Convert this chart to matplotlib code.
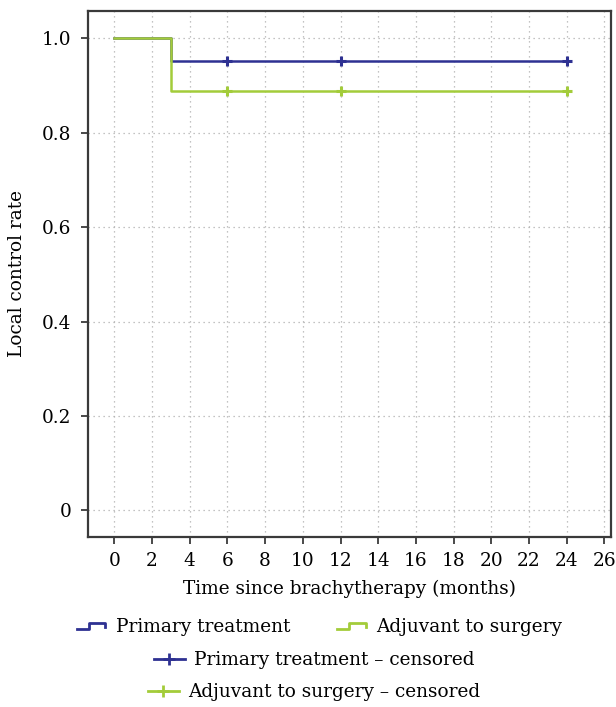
import matplotlib
matplotlib.use("Agg")
import matplotlib.pyplot as plt
from matplotlib.legend_handler import HandlerBase
from matplotlib.lines import Line2D

# survival curves (step points) and censor marks
primary_t = [0, 3.0, 24]
primary_s = [1.0, 0.952, 0.952]
adjuvant_t = [0, 3.0, 24]
adjuvant_s = [1.0, 0.889, 0.889]
censor_t = [6, 12, 24]
primary_censor = [0.952, 0.952, 0.952]
adjuvant_censor = [0.889, 0.889, 0.889]

x_ticks = list(range(0, 27, 2))
y_ticks = [0, 0.2, 0.4, 0.6, 0.8, 1.0]
y_labels = ["0", "0.2", "0.4", "0.6", "0.8", "1.0"]

BLUE = "#2e3192"
GREEN = "#a3cc3a"
SPINE = "#3a3a3a"
FS = 13.3

plt.rcParams["font.family"] = ["DejaVu Serif"]
plt.rcParams["font.size"] = FS


class StepHandler(HandlerBase):
    def create_artists(self, legend, orig, xd, yd, width, height, fontsize, trans):
        x0 = xd + width * 0.05
        w = width * 0.9
        lo = yd + height * 0.2
        hi = yd + height * 0.7
        xs = [x0, x0 + 0.4 * w, x0 + 0.4 * w, x0 + w, x0 + w]
        ys = [lo, lo, hi, hi, lo + 0.15 * height]
        ln = Line2D(xs, ys, color=orig.get_color(), lw=2.0, transform=trans)
        return [ln]


fig = plt.figure(figsize=(6.16, 7.07), dpi=100)
ax = fig.add_axes([0.1424, 0.2409, 0.8496, 0.7436])

ax.step(primary_t, primary_s, where="post", color=BLUE, lw=1.8)
ax.step(adjuvant_t, adjuvant_s, where="post", color=GREEN, lw=1.8)
ax.plot(censor_t, primary_censor, ls="none", marker="+", ms=7.5, mew=2.2, color=BLUE)
ax.plot(censor_t, adjuvant_censor, ls="none", marker="+", ms=7.5, mew=2.2, color=GREEN)

ax.set_xlim(-1.41, 26.35)
ax.set_ylim(-0.0555, 1.058)
ax.set_xticks(x_ticks)
ax.set_yticks(y_ticks)
ax.set_yticklabels(y_labels)
ax.grid(True, ls=(0, (1, 3)), color="#b0b0b0", lw=0.9)
ax.set_axisbelow(True)
for s in ax.spines.values():
    s.set_color(SPINE)
    s.set_linewidth(1.6)
ax.tick_params(direction="out", length=5, width=1.3, color=SPINE, labelsize=FS)
ax.tick_params(axis="y", pad=7)
ax.tick_params(axis="x", pad=6)

ax.set_xlabel("Time since brachytherapy (months)", fontsize=FS, labelpad=7)
ax.set_ylabel("Local control rate", fontsize=FS, labelpad=11)

h_prim = Line2D([], [], color=BLUE)
h_adj = Line2D([], [], color=GREEN)
h_pc = Line2D([], [], color=BLUE, marker="+", ms=8, mew=2, lw=2)
h_ac = Line2D([], [], color=GREEN, marker="+", ms=8, mew=2, lw=2)

common = dict(frameon=False, fontsize=FS, handlelength=1.7, handletextpad=0.5,
              loc="center", borderpad=0.1)
fig.legend([h_prim, h_adj], ["Primary treatment", "Adjuvant to surgery"],
           ncol=2, columnspacing=2.45, bbox_to_anchor=(0.518, 1 - 627 / 707),
           handler_map={Line2D: StepHandler()}, **common)
fig.legend([h_pc], ["Primary treatment \u2013 censored"],
           bbox_to_anchor=(0.51, 1 - 660 / 707), **common)
fig.legend([h_ac], ["Adjuvant to surgery \u2013 censored"],
           bbox_to_anchor=(0.51, 1 - 692 / 707), **common)

fig.savefig("out.png", dpi=100)
